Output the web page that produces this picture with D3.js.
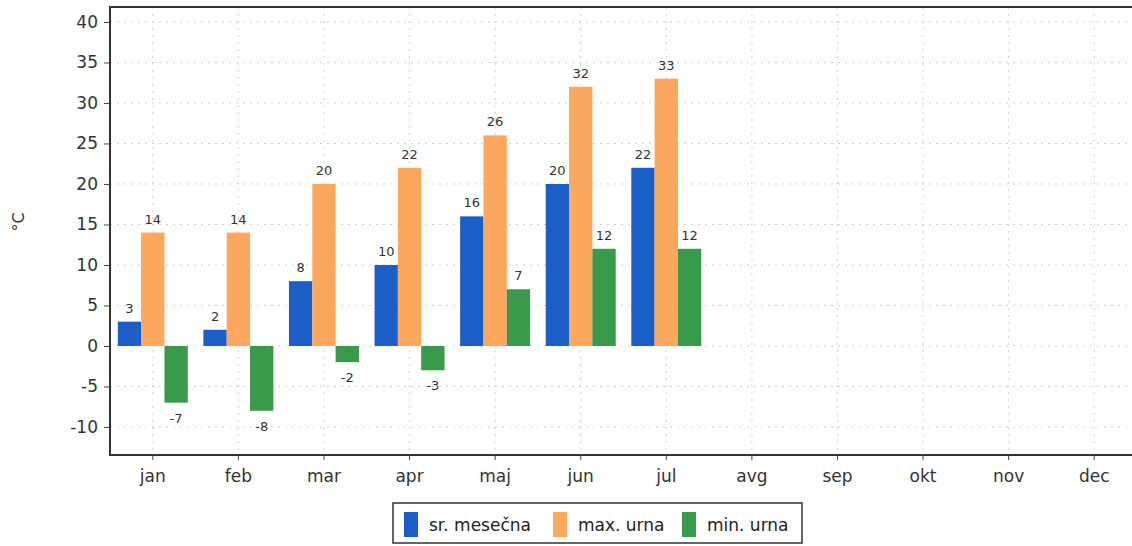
<!DOCTYPE html>
<html><head><meta charset="utf-8">
<script src="https://cdn.jsdelivr.net/npm/d3@7"></script>
<style>body{margin:0;background:#fff;overflow:hidden}svg{display:block}</style>
</head><body>
<svg id="c" width="1132" height="546"></svg>
<script>
const months = ["jan","feb","mar","apr","maj","jun","jul","avg","sep","okt","nov","dec"];
const avgTemp = [3,2,8,10,16,20,22,null,null,null,null,null];
const maxTemp = [14,14,20,22,26,32,33,null,null,null,null,null];
const minTemp = [-7,-8,-2,-3,7,12,12,null,null,null,null,null];
const seriesNames = ["sr. mesečna","max. urna","min. urna"];
const seriesColors = ["#1c5ec8","#fba85e","#3a9a4c"];
const yTicks = [-10,-5,0,5,10,15,20,25,30,35,40];

const svg = d3.select("#c");
const font = "DejaVu Sans, sans-serif";
const L = 110, R = 1137, T = 7, B = 455;
const x = d3.scaleBand().domain(months).range([L, R]);
const y = d3.scaleLinear().domain([-13.46, 41.85]).range([B, T]);
const sub = d3.scaleBand().domain([0,1,2]).range([0, 70]);
const series = [avgTemp, maxTemp, minTemp];

// grid
const g = svg.append("g");
g.selectAll(".hg").data(yTicks).enter().append("line")
  .attr("x1", L).attr("x2", R).attr("y1", d=>y(d)).attr("y2", d=>y(d))
  .attr("stroke","#cfcfcf").attr("stroke-dasharray","2,5");
g.selectAll(".vg").data(months).enter().append("line")
  .attr("x1", d=>x(d)+x.bandwidth()/2).attr("x2", d=>x(d)+x.bandwidth()/2)
  .attr("y1", T).attr("y2", B)
  .attr("stroke","#cfcfcf").attr("stroke-dasharray","2,5");

// bars
series.forEach((s, si) => {
  const data = months.map((m,i)=>({m, v:s[i]})).filter(d=>d.v!==null);
  svg.append("g").selectAll("rect").data(data).enter().append("rect")
    .attr("x", d=>x(d.m)+x.bandwidth()/2-35+sub(si))
    .attr("width", sub.bandwidth())
    .attr("y", d=>y(Math.max(0,d.v)))
    .attr("height", d=>Math.abs(y(d.v)-y(0)))
    .attr("fill", seriesColors[si]);
  svg.append("g").selectAll("text").data(data).enter().append("text")
    .attr("x", d=>x(d.m)+x.bandwidth()/2-35+sub(si)+sub.bandwidth()/2)
    .attr("y", d=> d.v>=0 ? y(d.v)-9 : y(d.v)+20)
    .attr("text-anchor","middle")
    .attr("font-family", font).attr("font-size", 13).attr("fill","#333")
    .text(d=>String(d.v));
});

// axes
const ya = svg.append("g").attr("transform",`translate(${L},0)`)
  .call(d3.axisLeft(y).tickValues(yTicks).tickFormat(d=>String(d)).tickSize(6).tickPadding(6));
ya.select(".domain").remove();
ya.selectAll("text").attr("font-family",font).attr("font-size",17).attr("fill","#333");
ya.selectAll("line").attr("stroke","#444");
const xa = svg.append("g").attr("transform",`translate(0,${B})`)
  .call(d3.axisBottom(x).tickSize(5).tickPadding(10));
xa.select(".domain").remove();
xa.selectAll("text").attr("font-family",font).attr("font-size",17).attr("fill","#333");
xa.selectAll("line").attr("stroke","#444");

svg.append("path").attr("d",`M${R},${T}H${L}V${B}H${R}`)
  .attr("fill","none").attr("stroke","#333").attr("stroke-width",2);

svg.append("text").attr("transform","translate(24,222) rotate(-90)")
  .attr("text-anchor","middle").attr("font-family",font).attr("font-size",16).attr("fill","#333")
  .text("°C");

// legend
const lg = svg.append("g");
lg.append("rect").attr("x",393).attr("y",503).attr("width",409).attr("height",40)
  .attr("fill","#fff").attr("stroke","#333").attr("stroke-width",1.5);
const lx = [404, 553, 682];
seriesNames.forEach((n,i)=>{
  lg.append("rect").attr("x",lx[i]).attr("y",512).attr("width",14).attr("height",25).attr("fill",seriesColors[i]);
  lg.append("text").attr("x",lx[i]+25).attr("y",531).attr("font-family",font).attr("font-size",17).attr("fill","#222").text(n);
});
</script>
</body></html>
